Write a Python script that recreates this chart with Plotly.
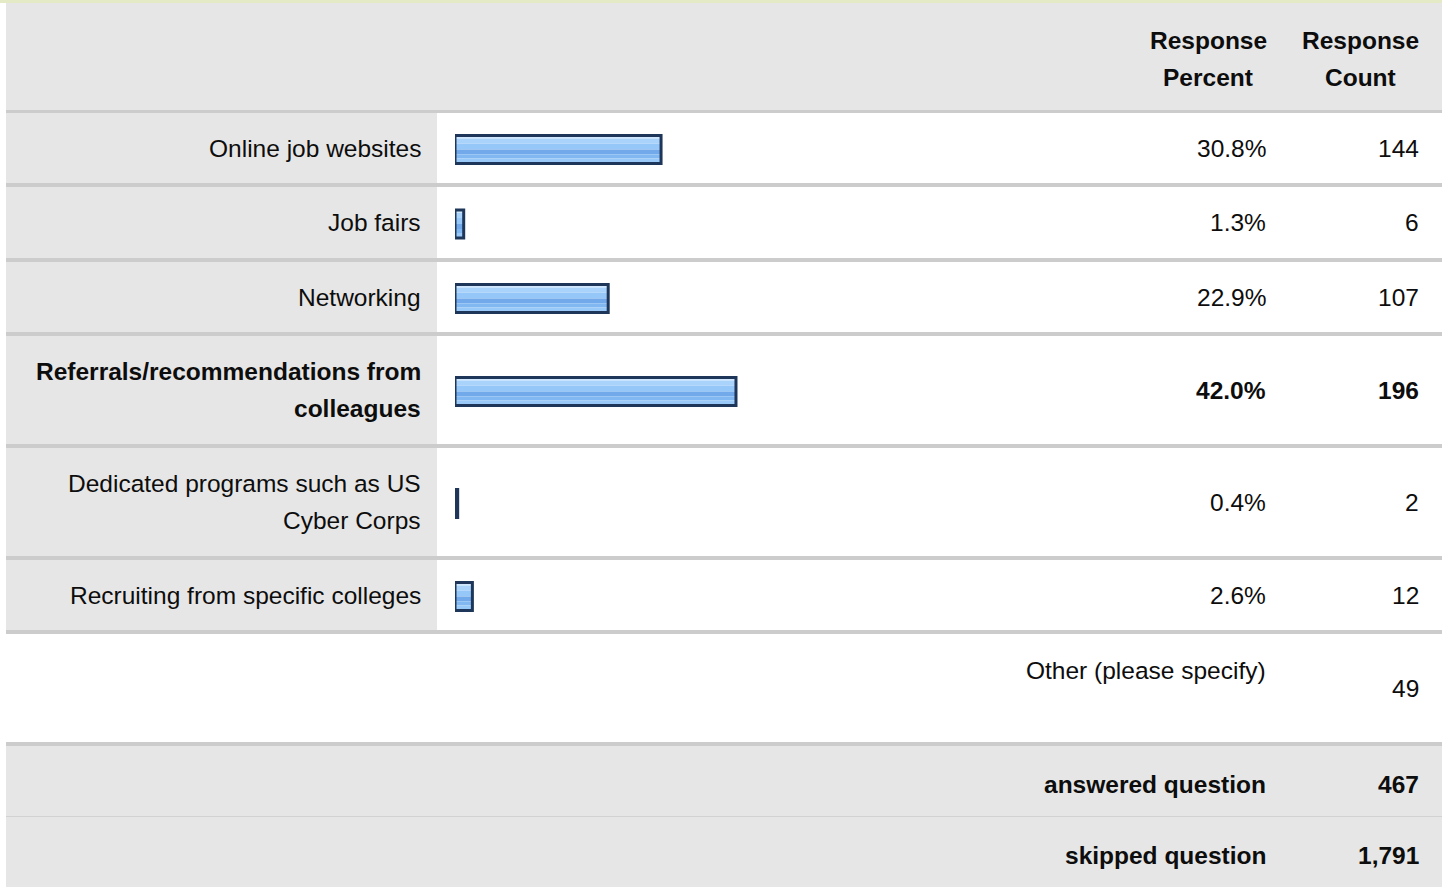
import plotly.graph_objects as go

# survey results
categories = ["Online job websites", "Job fairs", "Networking",
              "Referrals/recommendations from<br>colleagues",
              "Dedicated programs such as US<br>Cyber Corps",
              "Recruiting from specific colleges"]
percents = [30.8, 1.3, 22.9, 42.0, 0.4, 2.6]
counts = [144, 6, 107, 196, 2, 12]
header_labels = ["Response<br>Percent", "Response<br>Count"]
other_label = "Other (please specify)"
other_count = 49
summary_labels = ["answered question", "skipped question"]
summary_counts = [467, 1791]

# page geometry (pixels)
W, H = 1442, 888
LEFT = 6
LABEL_RIGHT = 437
LABEL_X = 423
BAR_X0 = 455
FULL_BAR = 669
PCT_X = 1268
CNT_X = 1421
HEADER_TOP, HEADER_BOTTOM = 3, 110
SEP = 4
row_heights = [70, 71, 70, 108, 108, 70]
OTHER_H = 108
SUMMARY_H = [71, 70]
BAR_H = 28
BAR_SHIFT = 1.5
LINE_GAP = 37

GRAY = "#e6e6e6"
SEPC = "#cccccc"
FONT = "Liberation Sans, Arial, sans-serif"
FS = 24.5

shapes = []
annotations = []


def rect(x0, y0, x1, y1, color):
    shapes.append(dict(type="rect", xref="x", yref="y", x0=x0, x1=x1, y0=y0, y1=y1,
                       fillcolor=color, line=dict(width=0), layer="below"))


def text(x, yc, s, bold=False, anchor="right"):
    lines = s.split("<br>")
    n = len(lines)
    for i, ln in enumerate(lines):
        y = yc + (i - (n - 1) / 2) * LINE_GAP
        annotations.append(dict(x=x, y=y, xref="x", yref="y", text=f"<b>{ln}</b>" if bold else ln,
                                showarrow=False, xanchor=anchor, yanchor="middle",
                                font=dict(family=FONT, size=FS, color="#0d0d0d")))


# top strip + header
rect(0, 0, W, HEADER_TOP, "#e4e9c6")
rect(LEFT, HEADER_TOP, W, HEADER_BOTTOM, GRAY)
text(1208, (HEADER_TOP + HEADER_BOTTOM) / 2 + 2, header_labels[0], bold=True, anchor="center")
text(1360, (HEADER_TOP + HEADER_BOTTOM) / 2 + 2, header_labels[1], bold=True, anchor="center")

y = HEADER_BOTTOM
rect(LEFT, y, W, y + 3, SEPC)
y += 3

top_row = percents.index(max(percents))
centers = []
for i, h in enumerate(row_heights):
    rect(LEFT, y, LABEL_RIGHT, y + h, GRAY)
    c = y + h / 2
    centers.append(c + BAR_SHIFT)
    b = i == top_row
    text(LABEL_X, c, categories[i], bold=b)
    text(PCT_X, c, f"{percents[i]:.1f}%", bold=b)
    text(CNT_X, c, str(counts[i]), bold=b)
    y += h
    rect(LEFT, y, W, y + SEP, SEPC)
    y += SEP

# other row
text(PCT_X, y + 36, other_label)
text(CNT_X, y + 54, str(other_count))
y += OTHER_H
rect(LEFT, y, W, y + SEP, SEPC)
y += SEP

# summary rows
for i, h in enumerate(SUMMARY_H):
    rect(LEFT, y, W, y + h, GRAY)
    text(PCT_X, y + h / 2 + 3, summary_labels[i], bold=True)
    text(CNT_X, y + h / 2 + 3, f"{summary_counts[i]:,}", bold=True)
    y += h
    if i == 0:
        rect(LEFT, y - 1, W, y + 1, "#d2d2d2")

fig = go.Figure()

# glossy bar stripes (top -> bottom)
stripes = [(0, 3, "#cfe6fd"), (3, 8, "#a9d3fb"), (8, 14, "#96c7f9"),
           (14, 19, "#71a9ea"), (19, 23, "#82b8f1"), (23, 28, "#98c9f8")]
for s0, s1, col in stripes:
    fig.add_trace(go.Bar(x=percents, y=centers, orientation="h", width=s1 - s0,
                         offset=s0 - BAR_H / 2, marker=dict(color=col, line=dict(width=0)),
                         xaxis="x2", yaxis="y", hoverinfo="skip", showlegend=False))
fig.add_trace(go.Bar(x=percents, y=centers, orientation="h", width=BAR_H, offset=-BAR_H / 2,
                     marker=dict(color="rgba(0,0,0,0)", line=dict(color="#1d3659", width=3)),
                     xaxis="x2", yaxis="y", hoverinfo="skip", showlegend=False))

fig.update_layout(
    width=W, height=H,
    margin=dict(l=0, r=0, t=0, b=0),
    paper_bgcolor="white", plot_bgcolor="rgba(0,0,0,0)",
    barmode="overlay",
    shapes=shapes, annotations=annotations,
    xaxis=dict(range=[0, W], visible=False, fixedrange=True),
    xaxis2=dict(range=[0, 100], visible=False, anchor="y",
                domain=[BAR_X0 / W, (BAR_X0 + FULL_BAR) / W], fixedrange=True),
    yaxis=dict(range=[H, 0], visible=False, fixedrange=True),
)

fig.write_html("out.html", config={"displayModeBar": False},
               post_script="document.body.style.margin='0';document.body.style.overflow='hidden';")
